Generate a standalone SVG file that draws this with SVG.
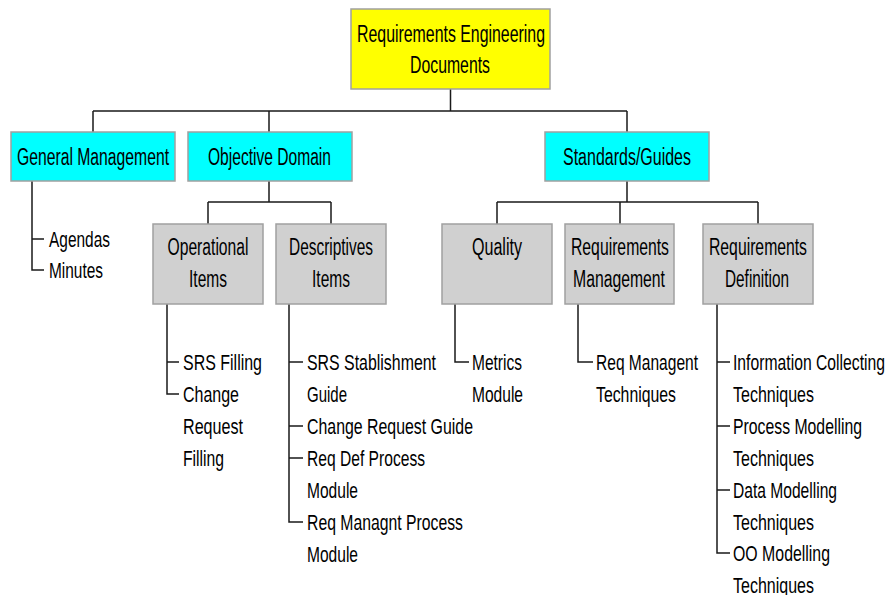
<svg xmlns="http://www.w3.org/2000/svg" width="887" height="595" viewBox="0 0 887 595">
<style>
.box{stroke:#a0a0a0;stroke-width:1.5}
.root{fill:#ffff00}
.l1{fill:#00ffff}
.l2{fill:#d0d0d0}
.t{font-family:"Liberation Sans",Arial,sans-serif;font-size:23px;fill:#000;text-anchor:middle}
.leaf{font-family:"Liberation Sans",Arial,sans-serif;font-size:22px;fill:#000}
.c{fill:none;stroke:#1a1a1a;stroke-width:1.5}
</style>
<rect width="887" height="595" fill="#fff"/>
<g id="connectors">
<path class="c" d="M450.5 89V111M93 111H627M93 111V132M269 111V132M627 111V132"/>
<path class="c" d="M269 181V202M208 202H331M208 202V224M331 202V224"/>
<path class="c" d="M627 181V202M497 202H758M497 202V224M620 202V224M758 202V224"/>
<path class="c" d="M32 181V270H44M32 239H44"/>
<path class="c" d="M167 304V394H179M167 362H179"/>
<path class="c" d="M289 304V522H303M289 362H303M289 426H303M289 458H303"/>
<path class="c" d="M455 304V362H469"/>
<path class="c" d="M578 304V362H593"/>
<path class="c" d="M717 304V553H730M717 362H730M717 426H730M717 490H730"/>
</g>
<g id="root">
<rect class="box root" x="351" y="9" width="199" height="80"/>
<text class="t" x="451" y="42" textLength="188" lengthAdjust="spacingAndGlyphs">Requirements Engineering</text>
<text class="t" x="450" y="73" textLength="80" lengthAdjust="spacingAndGlyphs">Documents</text>
</g>
<g id="general-management">
<rect class="box l1" x="11" y="132" width="164" height="49"/>
<text class="t" x="93" y="165" textLength="152" lengthAdjust="spacingAndGlyphs">General Management</text>
</g>
<g id="objective-domain">
<rect class="box l1" x="188" y="132" width="164" height="49"/>
<text class="t" x="269.5" y="165" textLength="123" lengthAdjust="spacingAndGlyphs">Objective Domain</text>
</g>
<g id="standards-guides">
<rect class="box l1" x="545" y="132" width="164" height="49"/>
<text class="t" x="627" y="165" textLength="128" lengthAdjust="spacingAndGlyphs">Standards/Guides</text>
</g>
<g id="operational-items">
<rect class="box l2" x="153" y="224" width="110" height="80"/>
<text class="t" x="208" y="255" textLength="81" lengthAdjust="spacingAndGlyphs">Operational</text>
<text class="t" x="208" y="287" textLength="38" lengthAdjust="spacingAndGlyphs">Items</text>
</g>
<g id="descriptives-items">
<rect class="box l2" x="276" y="224" width="110" height="80"/>
<text class="t" x="331" y="255" textLength="84" lengthAdjust="spacingAndGlyphs">Descriptives</text>
<text class="t" x="331" y="287" textLength="38" lengthAdjust="spacingAndGlyphs">Items</text>
</g>
<g id="quality">
<rect class="box l2" x="442" y="224" width="110" height="80"/>
<text class="t" x="497" y="255" textLength="50" lengthAdjust="spacingAndGlyphs">Quality</text>
</g>
<g id="requirements-management">
<rect class="box l2" x="565" y="224" width="109" height="80"/>
<text class="t" x="620" y="255" textLength="98" lengthAdjust="spacingAndGlyphs">Requirements</text>
<text class="t" x="619" y="287" textLength="92" lengthAdjust="spacingAndGlyphs">Management</text>
</g>
<g id="requirements-definition">
<rect class="box l2" x="703" y="224" width="110" height="80"/>
<text class="t" x="758" y="255" textLength="98" lengthAdjust="spacingAndGlyphs">Requirements</text>
<text class="t" x="757" y="287" textLength="64" lengthAdjust="spacingAndGlyphs">Definition</text>
</g>
<g id="gm-leaves">
<text class="leaf" x="49" y="247" textLength="61" lengthAdjust="spacingAndGlyphs">Agendas</text>
<text class="leaf" x="49" y="278" textLength="54" lengthAdjust="spacingAndGlyphs">Minutes</text>
</g>
<g id="operational-leaves">
<text class="leaf" x="183" y="370" textLength="79" lengthAdjust="spacingAndGlyphs">SRS Filling</text>
<text class="leaf" x="183" y="402" textLength="56" lengthAdjust="spacingAndGlyphs">Change</text>
<text class="leaf" x="183" y="434" textLength="60" lengthAdjust="spacingAndGlyphs">Request</text>
<text class="leaf" x="183" y="466" textLength="41" lengthAdjust="spacingAndGlyphs">Filling</text>
</g>
<g id="descriptives-leaves">
<text class="leaf" x="307" y="370" textLength="129" lengthAdjust="spacingAndGlyphs">SRS Stablishment</text>
<text class="leaf" x="307" y="402" textLength="40" lengthAdjust="spacingAndGlyphs">Guide</text>
<text class="leaf" x="307" y="434" textLength="166" lengthAdjust="spacingAndGlyphs">Change Request Guide</text>
<text class="leaf" x="307" y="466" textLength="118" lengthAdjust="spacingAndGlyphs">Req Def Process</text>
<text class="leaf" x="307" y="498" textLength="51" lengthAdjust="spacingAndGlyphs">Module</text>
<text class="leaf" x="307" y="530" textLength="156" lengthAdjust="spacingAndGlyphs">Req Managnt Process</text>
<text class="leaf" x="307" y="562" textLength="51" lengthAdjust="spacingAndGlyphs">Module</text>
</g>
<g id="quality-leaves">
<text class="leaf" x="472" y="370" textLength="50" lengthAdjust="spacingAndGlyphs">Metrics</text>
<text class="leaf" x="472" y="402" textLength="51" lengthAdjust="spacingAndGlyphs">Module</text>
</g>
<g id="reqmgmt-leaves">
<text class="leaf" x="596" y="370" textLength="102" lengthAdjust="spacingAndGlyphs">Req Managent</text>
<text class="leaf" x="596" y="402" textLength="80" lengthAdjust="spacingAndGlyphs">Techniques</text>
</g>
<g id="reqdef-leaves">
<text class="leaf" x="733" y="370" textLength="152" lengthAdjust="spacingAndGlyphs">Information Collecting</text>
<text class="leaf" x="733" y="402" textLength="81" lengthAdjust="spacingAndGlyphs">Techniques</text>
<text class="leaf" x="733" y="434" textLength="129" lengthAdjust="spacingAndGlyphs">Process Modelling</text>
<text class="leaf" x="733" y="466" textLength="81" lengthAdjust="spacingAndGlyphs">Techniques</text>
<text class="leaf" x="733" y="498" textLength="104" lengthAdjust="spacingAndGlyphs">Data Modelling</text>
<text class="leaf" x="733" y="530" textLength="81" lengthAdjust="spacingAndGlyphs">Techniques</text>
<text class="leaf" x="733" y="561" textLength="97" lengthAdjust="spacingAndGlyphs">OO Modelling</text>
<text class="leaf" x="733" y="593" textLength="81" lengthAdjust="spacingAndGlyphs">Techniques</text>
</g>
</svg>
